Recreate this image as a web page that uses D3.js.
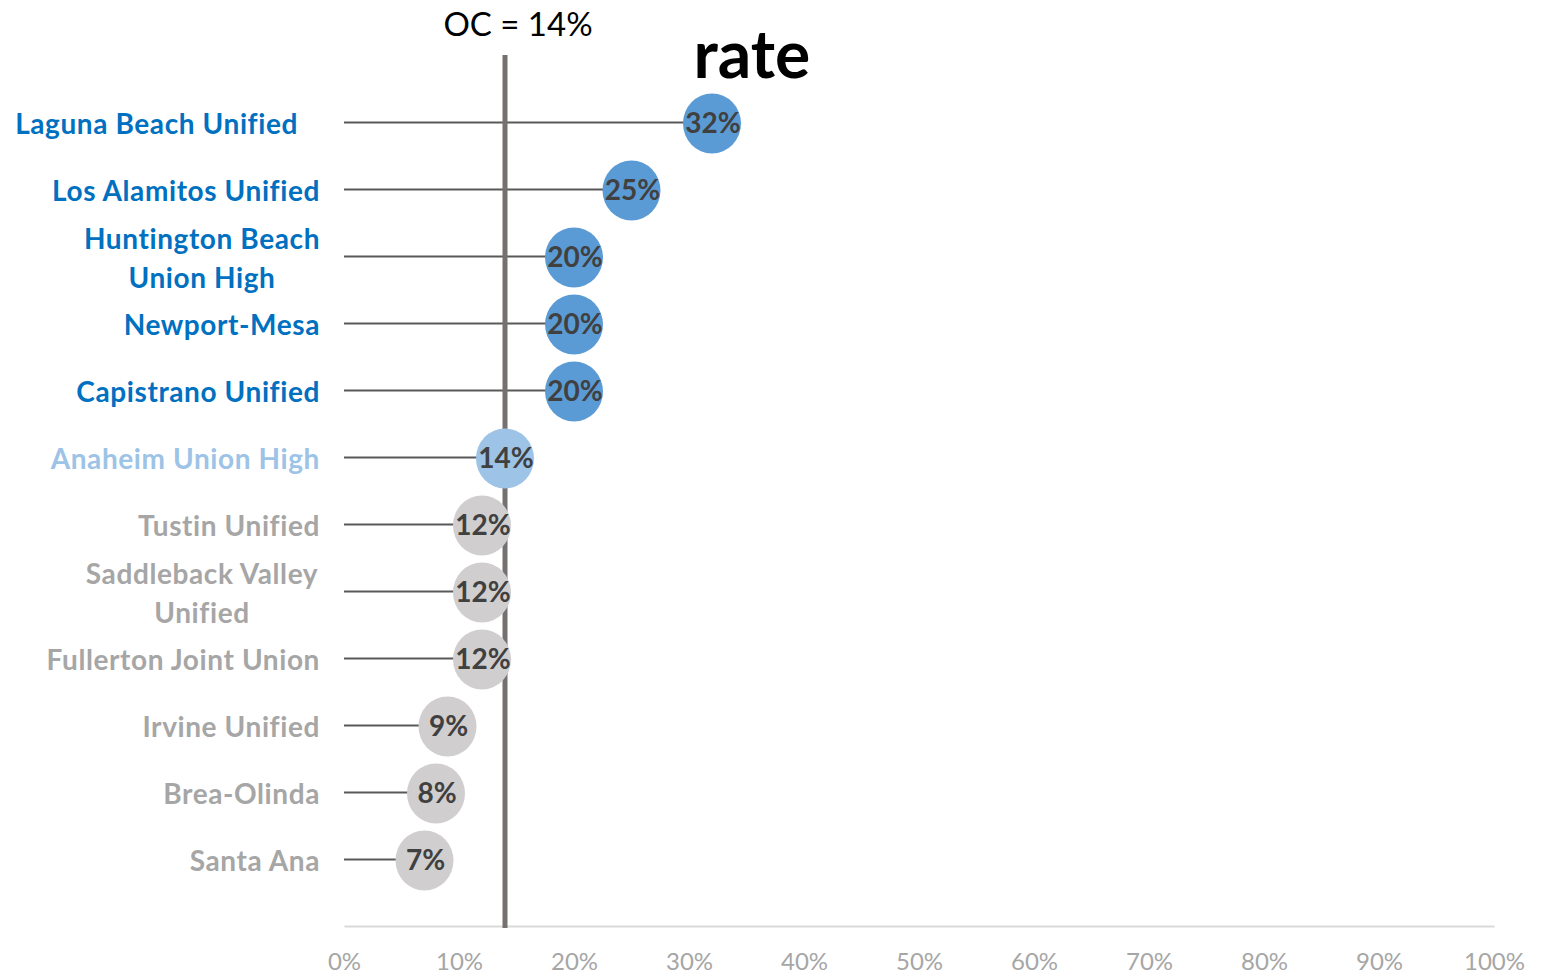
<!DOCTYPE html>
<html><head><meta charset="utf-8">
<script src="https://cdn.jsdelivr.net/npm/d3@7"></script>
<style>body{margin:0;background:#fff}svg{display:block;font-family:Lato,"Open Sans",sans-serif}</style>
</head><body>
<svg id="c" width="1543" height="976"></svg>
<script>
const categories = [
  ["Laguna Beach Unified"],
  ["Los Alamitos Unified"],
  ["Huntington Beach","Union High"],
  ["Newport-Mesa"],
  ["Capistrano Unified"],
  ["Anaheim Union High"],
  ["Tustin Unified"],
  ["Saddleback Valley","Unified"],
  ["Fullerton Joint Union"],
  ["Irvine Unified"],
  ["Brea-Olinda"],
  ["Santa Ana"]
];
const values = [32, 25, 20, 20, 20, 14, 12, 12, 12, 9, 8, 7];
const groups = ["above","above","above","above","above","county","below","below","below","below","below","below"];
const ocValue = 14;
const tickValues = [0,10,20,30,40,50,60,70,80,90,100];
const titleText = "rate";
const ocLabel = "OC = 14%";

const circleFill = {above:"#5B9BD5", county:"#9DC3E6", below:"#D0CECE"};
const labelFill = {above:"#0070C0", county:"#9DC3E6", below:"#A6A6A6"};

const svg = d3.select("#c");
const x = d3.scaleLinear().domain([0,100]).range([344,1494]);
const y = d3.scaleBand().domain(d3.range(categories.length)).range([89,893]);
const cy = i => y(i) + y.bandwidth()/2;

// axis
const axis = svg.append("g").attr("transform","translate(0,926)")
  .call(d3.axisBottom(x).tickValues(tickValues).tickSize(0).tickPadding(27).tickFormat(d=>d+"%"));
axis.select(".domain").attr("stroke","#D9D9D9").attr("stroke-width",2);
axis.selectAll("text").attr("fill","#A6A6A6").attr("font-size",24).attr("font-family","Lato, sans-serif");

// lollipop stems
svg.append("g").selectAll("line").data(values).join("line")
  .attr("x1",x(0)).attr("x2",d=>x(d))
  .attr("y1",(d,i)=>cy(i)).attr("y2",(d,i)=>cy(i))
  .attr("stroke","#595959").attr("stroke-width",2);

// OC line
svg.append("line").attr("x1",x(ocValue)).attr("x2",x(ocValue))
  .attr("y1",55).attr("y2",928).attr("stroke","#767171").attr("stroke-width",5);
svg.append("text").attr("x",x(ocValue)+13).attr("y",36).attr("text-anchor","middle")
  .attr("font-size",33).attr("fill","#000").text(ocLabel);

// title
svg.append("text").attr("x",752).attr("y",78).attr("text-anchor","middle")
  .attr("font-size",66).attr("font-weight","bold").attr("fill","#000").text(titleText);

// circles
svg.append("g").selectAll("ellipse").data(values).join("ellipse")
  .attr("cx",d=>x(d)).attr("cy",(d,i)=>cy(i)+1).attr("rx",29).attr("ry",30)
  .attr("fill",(d,i)=>circleFill[groups[i]]);
svg.append("g").selectAll("text").data(values).join("text")
  .attr("x",d=>x(d)+1).attr("y",(d,i)=>cy(i)+10).attr("text-anchor","middle")
  .attr("font-size",28).attr("font-weight","bold").attr("fill","#404040")
  .text(d=>d+"%");

// category labels
const lg = svg.append("g");
categories.forEach((lines,i)=>{
  const t = lg.append("text").attr("font-size",28).attr("font-weight","bold")
    .attr("letter-spacing",0.6).attr("fill",labelFill[groups[i]]);
  if(lines.length===1){
    t.attr("text-anchor","end").attr("x", i===0 ? 298 : 320).attr("y",cy(i)+11).text(lines[0]);
  } else {
    t.attr("text-anchor","middle");
    lines.forEach((s,k)=>{
      t.append("tspan").attr("x",202).attr("y",cy(i)-8+k*39).text(s);
    });
  }
});
</script>
</body></html>
